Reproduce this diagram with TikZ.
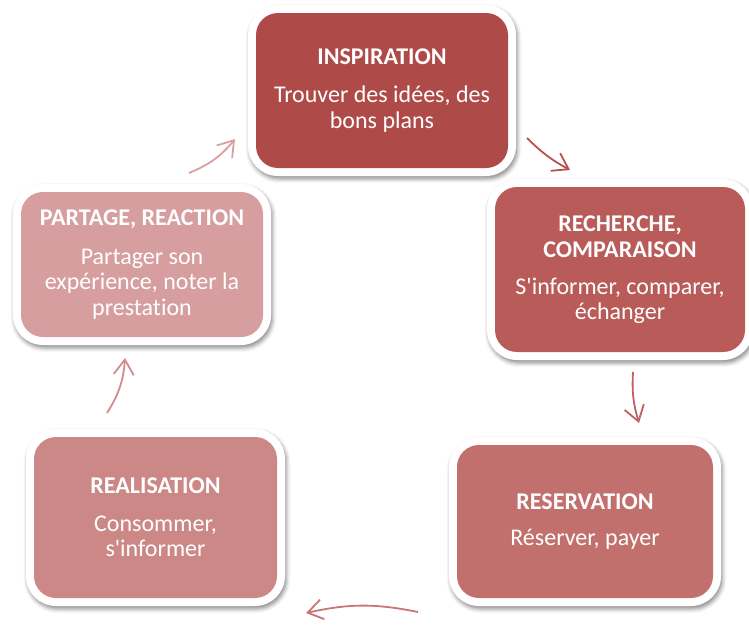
\documentclass[tikz,border=0pt]{standalone}
\usepackage{fontspec}
\setmainfont{Carlito}[Ligatures={NoCommon}]
\usetikzlibrary{arrows.meta,shadows.blur}
\definecolor{cInsp}{RGB}{174,74,72}
\definecolor{cRech}{RGB}{185,91,88}
\definecolor{cResv}{RGB}{194,112,110}
\definecolor{cReal}{RGB}{204,136,134}
\definecolor{cPart}{RGB}{214,158,158}
\definecolor{aOne}{RGB}{218,160,160}
\definecolor{aTwo}{RGB}{184,80,78}
\definecolor{aThree}{RGB}{192,96,94}
\definecolor{aFour}{RGB}{203,118,116}
\definecolor{aFive}{RGB}{211,140,140}
\tikzset{
  outerbox/.style={fill=white, rounded corners=30pt, inner sep=0pt,
    blur shadow={shadow xshift=1.5pt, shadow yshift=-3pt, shadow blur radius=4pt, shadow opacity=45}},
  innerbox/.style={rounded corners=22pt, inner sep=0pt, text=white, align=center,
    font=\fontsize{24}{25.5}\selectfont},
  cyc/.style={line width=1.8pt, -{Straight Barb[length=15pt,width=20pt,line width=1.8pt]}},
}
\newcommand{\ttl}[1]{\textbf{#1}}
\newcommand{\ap}{\textquotesingle}
\begin{document}
\begin{tikzpicture}[x=1pt,y=-1pt]
\useasboundingbox (0,0) rectangle (749,625);
% outer white frames
\node[outerbox, minimum width=268pt, minimum height=171pt] (inspO) at (382,90.5) {};
\node[outerbox, minimum width=266pt, minimum height=181pt] (rechO) at (620,269.5) {};
\node[outerbox, minimum width=272pt, minimum height=169pt] (resvO) at (585,521.5) {};
\node[outerbox, minimum width=259pt, minimum height=177pt] (realO) at (155.5,517.5) {};
\node[outerbox, minimum width=258pt, minimum height=161pt] (partO) at (142,264.5) {};
% coloured boxes
\node[innerbox, fill=cInsp, minimum width=252pt, minimum height=155pt] (insp) at (382,90.5)
  {\ttl{INSPIRATION}\\[13pt]Trouver des idées, des\\bons plans};
\node[innerbox, fill=cRech, minimum width=250pt, minimum height=165pt] (rech) at (620,269.5)
  {\ttl{RECHERCHE,}\\[1pt]\ttl{COMPARAISON}\\[11pt]S\ap informer, comparer,\\échanger};
\node[innerbox, fill=cResv, minimum width=256pt, minimum height=153pt] (resv) at (585,521.5)
  {\ttl{RESERVATION}\\[10pt]Réserver, payer};
\node[innerbox, fill=cReal, minimum width=243pt, minimum height=161pt] (real) at (155.5,517.5)
  {\ttl{REALISATION}\\[12pt]Consommer,\\s\ap informer};
\node[innerbox, fill=cPart, minimum width=242pt, minimum height=145pt] (part) at (142,264.5)
  {\ttl{PARTAGE, REACTION}\\[13pt]Partager son\\expérience, noter la\\prestation};
% arrow ends
\coordinate (a1s) at (189,173); \coordinate (a1e) at (235,139);
\coordinate (a2s) at (527,138); \coordinate (a2e) at (570,170);
\coordinate (a3s) at (633,372); \coordinate (a3e) at (639,423);
\coordinate (a4s) at (418,612); \coordinate (a4e) at (306,613);
\coordinate (a5s) at (107,413); \coordinate (a5e) at (125,358);
\draw[cyc, aOne] (a1s) to[bend right=14] (a1e);
\draw[cyc, aTwo] (a2s) to[bend right=8] (a2e);
\draw[cyc, aThree] (a3s) to[bend right=10] (a3e);
\draw[cyc, aFour] (a4s) to[bend right=12] (a4e);
\draw[cyc, aFive] (a5s) to[bend right=14] (a5e);
\end{tikzpicture}
\end{document}
